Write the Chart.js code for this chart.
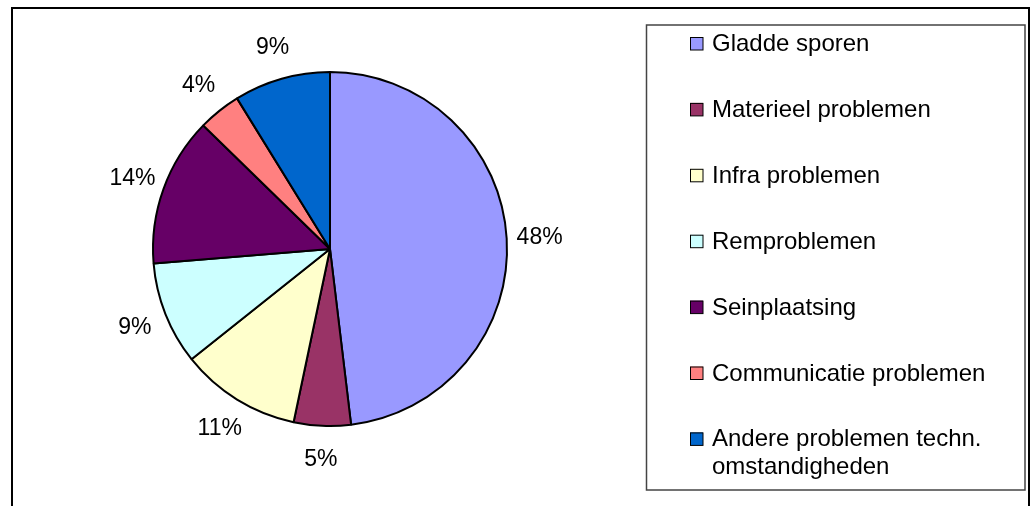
<!DOCTYPE html>
<html>
<head>
<meta charset="utf-8">
<script src="https://cdn.jsdelivr.net/npm/chart.js@4.4.1/dist/chart.umd.min.js"></script>
<style>
  html, body { margin: 0; padding: 0; background: #fff; }
  #wrap { width: 1032px; height: 506px; position: relative; }
</style>
</head>
<body>
<div id="wrap"><canvas id="chart1"></canvas></div>
<script>
// categorieën en waarden (percentages)
const categories = [
    'Gladde sporen',
    'Materieel problemen',
    'Infra problemen',
    'Remproblemen',
    'Seinplaatsing',
    'Communicatie problemen',
    'Andere problemen techn. omstandigheden'
];
const shares = [48.1, 5.2, 11.0, 9.4, 13.6, 3.9, 8.8];
const sliceColors = ['#9999FF', '#993366', '#FFFFCC', '#CCFFFF', '#660066', '#FF8080', '#0066CC'];

const LABEL_FONT = '23px "Liberation Sans", Arial, sans-serif';
const LEGEND_FONT = '24px "Liberation Sans", Arial, sans-serif';

// rand rond de hele grafiek
const framePlugin = {
    id: 'frame',
    beforeDraw(chart) {
        const ctx = chart.ctx;
        ctx.save();
        ctx.strokeStyle = '#000';
        ctx.lineWidth = 2;
        ctx.strokeRect(12, 8, 1017, 600);
        ctx.restore();
    }
};

// percentages buiten de taartpunten
const percentPlugin = {
    id: 'percentLabels',
    afterDatasetsDraw(chart) {
        const ctx = chart.ctx;
        const meta = chart.getDatasetMeta(0);
        const values = chart.data.datasets[0].data;
        const total = values.reduce((a, b) => a + b, 0);
        ctx.save();
        ctx.font = LABEL_FONT;
        ctx.fillStyle = '#000';
        ctx.textAlign = 'center';
        ctx.textBaseline = 'middle';
        meta.data.forEach((arc, i) => {
            const mid = (arc.startAngle + arc.endAngle) / 2;
            const r = arc.outerRadius + 33;
            const x = arc.x + Math.cos(mid) * r;
            const y = arc.y + Math.sin(mid) * r;
            ctx.fillText(Math.round(values[i] / total * 100) + '%', x, y + 1);
        });
        ctx.restore();
    }
};

// legenda in een kader rechts
function wrapText(ctx, text, maxWidth) {
    const words = text.split(' ');
    const lines = [];
    let line = '';
    words.forEach(w => {
        const test = line ? line + ' ' + w : w;
        if (ctx.measureText(test).width > maxWidth && line) {
            lines.push(line);
            line = w;
        } else {
            line = test;
        }
    });
    if (line) lines.push(line);
    return lines;
}

const legendPlugin = {
    id: 'boxLegend',
    afterDraw(chart) {
        const ctx = chart.ctx;
        const labels = chart.data.labels;
        const colors = chart.data.datasets[0].backgroundColor;
        ctx.save();
        ctx.strokeStyle = '#444';
        ctx.lineWidth = 1.5;
        ctx.strokeRect(646.5, 25, 378.5, 465);

        ctx.font = LEGEND_FONT;
        ctx.textAlign = 'left';
        ctx.textBaseline = 'alphabetic';
        labels.forEach((label, i) => {
            const cy = 43.5 + i * 65.9;
            ctx.fillStyle = colors[i];
            ctx.fillRect(690, cy - 6.5, 13, 13);
            ctx.strokeStyle = '#000';
            ctx.lineWidth = 1;
            ctx.strokeRect(690.5, cy - 6, 12.5, 12.5);
            ctx.fillStyle = '#000';
            const lines = wrapText(ctx, label, 300);
            lines.forEach((ln, j) => {
                ctx.fillText(ln, 712, cy + 7.5 + j * 28);
            });
        });
        ctx.restore();
    }
};

function createChart(chartId) {
    const ctx = document.getElementById(chartId).getContext('2d');
    new Chart(ctx, {
        type: 'pie',
        data: {
            labels: categories,
            datasets: [{
                data: shares,
                backgroundColor: sliceColors,
                borderColor: '#000',
                borderWidth: 2,
                radius: 177
            }]
        },
        options: {
            responsive: true,
            maintainAspectRatio: false,
            animation: false,
            devicePixelRatio: 1,
            layout: {
                padding: { left: 152, right: 524, top: 72, bottom: 80 }
            },
            plugins: {
                legend: { display: false },
                tooltip: { enabled: false }
            }
        },
        plugins: [framePlugin, percentPlugin, legendPlugin]
    });
}

createChart('chart1');
</script>
</body>
</html>
